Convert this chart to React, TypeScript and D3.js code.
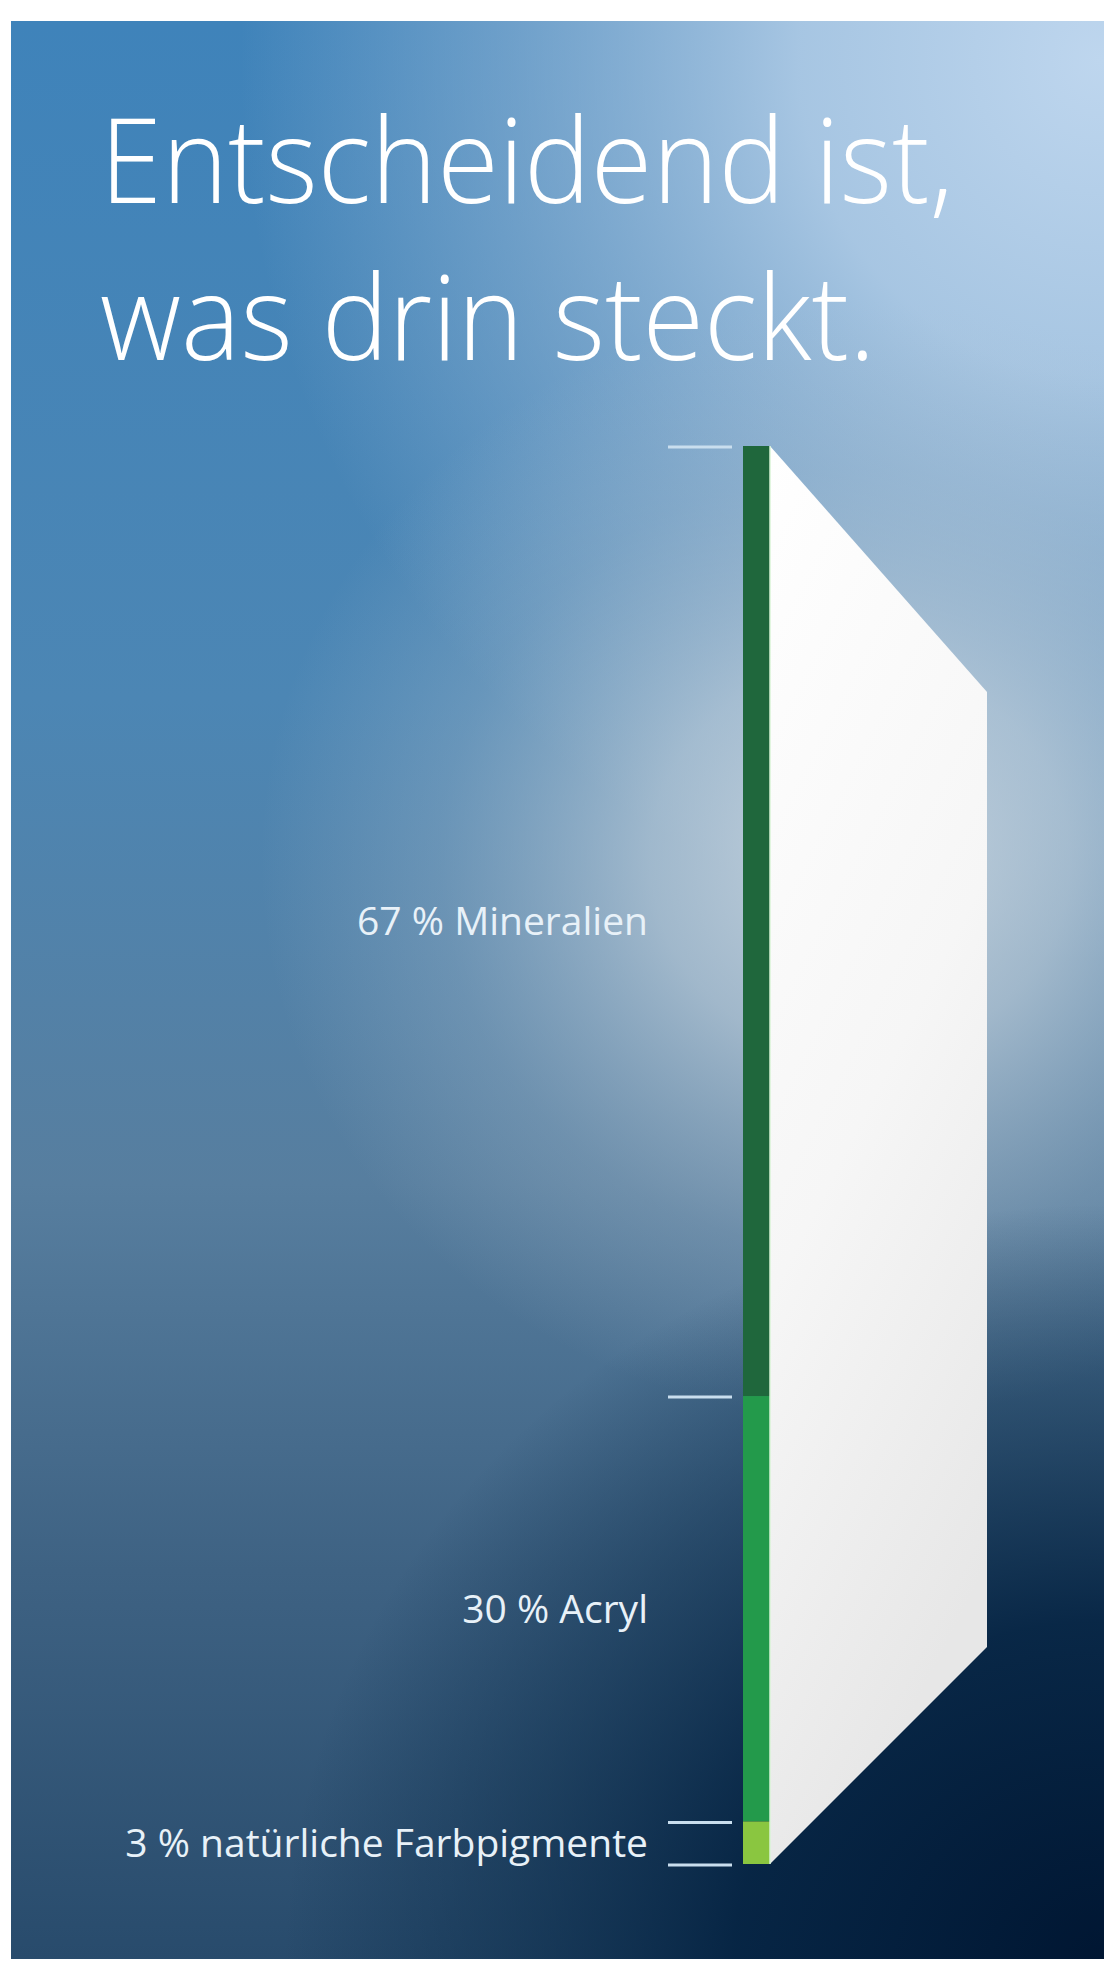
import React from "react";
import * as d3 from "d3";

const titleLines = ["Entscheidend ist,", "was drin steckt."];
const categories = ["Mineralien", "Acryl", "natürliche Farbpigmente"];
const shares = [67, 30, 3];
const segmentColors = ["#1f673c", "#239a4b", "#8ac640"];

const W = 1104;
const H = 1964;

export default function App() {
  const y = d3.scaleLinear().domain([0, 100]).range([446, 1864]);
  const barX0 = 743;
  const barX1 = 770;
  const sideX = 987;

  const cum: number[] = [0];
  shares.forEach((s, i) => cum.push(cum[i] + s));
  const segs = shares.map((s, i) => ({ cat: categories[i], share: s, y0: cum[i], y1: cum[i + 1], color: segmentColors[i] }));

  const yTop = y(0);
  const yBot = y(100);
  const sidePath = d3.path();
  sidePath.moveTo(barX1, yTop);
  sidePath.lineTo(sideX, yTop + 246);
  sidePath.lineTo(sideX, yBot - (sideX - barX1));
  sidePath.lineTo(barX1, yBot);
  sidePath.closePath();

  const px = 11, py = 21, pw = W - 11, ph = 1938;

  return (
    <svg width={W} height={H} style={{ position: "absolute", left: 0, top: 0 }} xmlns="http://www.w3.org/2000/svg">
      <defs>
        <linearGradient id="base" x1="0" y1="0" x2="0" y2="1">
          <stop offset="0%" stopColor="#3f83ba" />
          <stop offset="35%" stopColor="#4c86b4" />
          <stop offset="60%" stopColor="#577e9f" />
          <stop offset="80%" stopColor="#3e6283" />
          <stop offset="100%" stopColor="#284b6c" />
        </linearGradient>
        <radialGradient id="topRight" gradientUnits="userSpaceOnUse" cx="0" cy="0" r="1" gradientTransform="translate(1100 60) scale(860 900)">
          <stop offset="0%" stopColor="#bed6ee" stopOpacity="1" />
          <stop offset="35%" stopColor="#b2cde7" stopOpacity="0.9" />
          <stop offset="70%" stopColor="#a3c0dc" stopOpacity="0.45" />
          <stop offset="100%" stopColor="#a3c0dc" stopOpacity="0" />
        </radialGradient>
        <radialGradient id="mid" gradientUnits="userSpaceOnUse" cx="0" cy="0" r="1" gradientTransform="translate(860 860) scale(600 560)">
          <stop offset="0%" stopColor="#cdd8e1" stopOpacity="0.95" />
          <stop offset="35%" stopColor="#c2cfda" stopOpacity="0.7" />
          <stop offset="70%" stopColor="#aebfce" stopOpacity="0.28" />
          <stop offset="100%" stopColor="#aebfce" stopOpacity="0" />
        </radialGradient>
        <radialGradient id="dark" gradientUnits="userSpaceOnUse" cx="0" cy="0" r="1" gradientTransform="translate(1104 1964) scale(820 760)">
          <stop offset="0%" stopColor="#001632" stopOpacity="1" />
          <stop offset="45%" stopColor="#02203f" stopOpacity="0.88" />
          <stop offset="75%" stopColor="#0a2a48" stopOpacity="0.45" />
          <stop offset="100%" stopColor="#0a2a48" stopOpacity="0" />
        </radialGradient>
        <linearGradient id="side" x1="0" y1="0" x2="0.3" y2="1">
          <stop offset="0%" stopColor="#ffffff" />
          <stop offset="55%" stopColor="#f6f6f6" />
          <stop offset="100%" stopColor="#e7e7e7" />
        </linearGradient>
        <clipPath id="panelClip">
          <rect x={px} y={py} width={pw} height={ph} />
        </clipPath>
      </defs>
      <rect x={0} y={0} width={W} height={H} fill="#ffffff" />
      <g clipPath="url(#panelClip)">
        <rect x={px} y={py} width={pw} height={ph} fill="url(#base)" />
        <rect x={px} y={py} width={pw} height={ph} fill="url(#topRight)" />
        <rect x={px} y={py} width={pw} height={ph} fill="url(#mid)" />
        <rect x={px} y={py} width={pw} height={ph} fill="url(#dark)" />

        <g transform="translate(100 0) scale(0.95 1)">
          {titleLines.map((t, i) => (
            <text
              key={t}
              x={0}
              y={203 + i * 157}
              fill="#ffffff"
              fontFamily="'Open Sans', sans-serif"
              fontWeight={300}
              fontSize={118}
            >
              {t}
            </text>
          ))}
        </g>

        <path d={sidePath.toString()} fill="url(#side)" />

        {segs.map((s) => (
          <rect key={s.cat} x={barX0} y={y(s.y0)} width={barX1 - barX0} height={y(s.y1) - y(s.y0)} fill={s.color} />
        ))}
        <line x1={barX1} x2={barX1} y1={yTop} y2={yBot} stroke="#d9f3d6" strokeWidth={1.5} />

        {cum.map((c, i) => (
          <line key={i} x1={668} x2={732} y1={y(c) + 1} y2={y(c) + 1} stroke="#c9deee" strokeWidth={3} />
        ))}

        {segs.map((s) => (
          <text
            key={"l" + s.cat}
            x={648}
            y={(y(s.y0) + y(s.y1)) / 2 + 14}
            textAnchor="end"
            fill="#e8f1f8"
            fontFamily="'Open Sans', sans-serif"
            fontSize={39}
          >
            {`${s.share} % ${s.cat}`}
          </text>
        ))}
      </g>
    </svg>
  );
}
